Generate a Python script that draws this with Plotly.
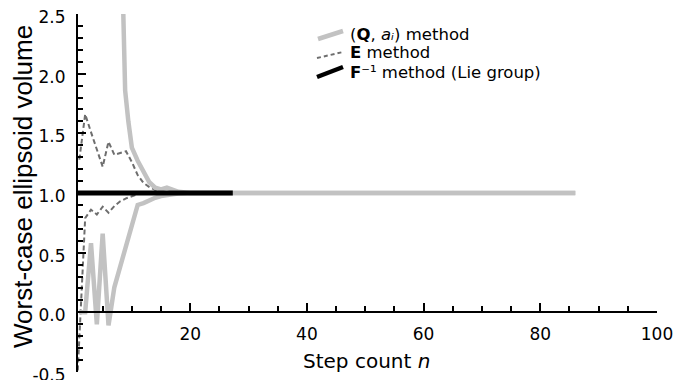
import plotly.graph_objects as go

# ---------------- data ----------------
gray_upper_n = [8.0, 8.85, 9.4, 10, 11, 12, 13, 14, 15, 16, 17, 18, 20, 86]
gray_upper_v = [3.6, 1.86, 1.6, 1.38, 1.27, 1.17, 1.09, 1.045, 1.03, 1.045, 1.025, 1.01, 1.0, 1.0]

gray_lower_n = [1, 2, 3, 4, 5, 6, 7, 8, 9, 10, 11, 12, 13, 14, 15, 16, 17, 18, 20, 86]
gray_lower_v = [0.0, 0.0, 0.58, -0.10, 0.66, -0.11, 0.21, 0.38, 0.555, 0.73, 0.90, 0.915, 0.94, 0.96,
                0.975, 0.985, 0.99, 0.995, 1.0, 1.0]

e_upper_n = [1, 2, 3, 4, 5, 6, 7, 8, 9, 10, 11, 12, 13, 14, 15, 16, 27]
e_upper_v = [1.28, 1.66, 1.51, 1.36, 1.22, 1.43, 1.32, 1.335, 1.35, 1.26, 1.15, 1.085, 1.05, 1.025,
             1.01, 1.0, 1.0]

e_lower_n = [0.6, 1, 2, 3, 4, 5, 6, 7, 8, 9, 10, 11, 12, 27]
e_lower_v = [-0.62, -0.25, 0.79, 0.86, 0.82, 0.885, 0.835, 0.89, 0.93, 0.955, 0.975, 0.99, 1.0, 1.0]

lie_n = [0.6, 27.3]
lie_v = [1.0, 1.0]

y_tick_vals = [-0.5, 0.0, 0.5, 1.0, 1.5, 2.0, 2.5]
y_tick_text = ["-0.5", "0.0", "0.5", "1.0", "1.5", "2.0", "2.5"]
x_tick_vals = [20, 40, 60, 80, 100]
x_tick_text = ["20", "40", "60", "80", "100"]

legend_labels = [
    "(<b>Q</b>, <i>a</i><i>ᵢ</i>) method",
    "<b>E</b> method",
    "<b>F</b>⁻¹ method (Lie group)",
]

# ---------------- styles / layout ----------------
GRAY = "#c2c2c2"
DASH = "#6e6e6e"
BLACK = "#000000"
FONT_H = "DejaVu Sans"
FONT_V = "Liberation Sans, Arial"

W_PX, H_PX = 694, 380
OFF = 8  # page body margin in the browser
L, R, T, B = 69, 45, 6, 16
PW, PH = W_PX - L - R, H_PX - T - B


def px(x):
    """screen pixel x -> paper fraction"""
    return (x - OFF - L) / PW


def py(y):
    """screen pixel y -> paper fraction"""
    return (H_PX - B - (y - OFF)) / PH


fig = go.Figure()

fig.add_trace(go.Scatter(x=e_upper_n, y=e_upper_v, mode="lines",
                         line=dict(color=DASH, width=2, dash="5px,3px")))
fig.add_trace(go.Scatter(x=e_lower_n, y=e_lower_v, mode="lines",
                         line=dict(color=DASH, width=2, dash="5px,3px")))
fig.add_trace(go.Scatter(x=gray_upper_n, y=gray_upper_v, mode="lines",
                         line=dict(color=GRAY, width=4.5)))
fig.add_trace(go.Scatter(x=gray_lower_n, y=gray_lower_v, mode="lines",
                         line=dict(color=GRAY, width=4.5)))
fig.add_trace(go.Scatter(x=lie_n, y=lie_v, mode="lines",
                         line=dict(color=BLACK, width=5)))

fig.update_layout(
    width=W_PX, height=H_PX,
    margin=dict(l=L, r=R, t=T, b=B, autoexpand=False),
    plot_bgcolor="white", paper_bgcolor="white",
    showlegend=False,
    xaxis=dict(
        range=[0.6, 100], tickvals=x_tick_vals, ticktext=x_tick_text,
        ticks="inside", ticklen=8, tickwidth=1.5, tickcolor="black",
        showline=True, linecolor="black", linewidth=2,
        anchor="free", position=(0 - (-0.5)) / 3.0,
        minor=dict(dtick=5, tick0=0, ticks="inside", ticklen=5, tickwidth=1.5, tickcolor="black"),
        showgrid=False, zeroline=False,
        tickfont=dict(family=FONT_H, size=17, color="black"),
        ticklabelstandoff=6, ticklabeloverflow="allow",
    ),
    yaxis=dict(
        range=[-0.5, 2.5], tickvals=y_tick_vals, ticktext=y_tick_text,
        ticks="inside", ticklen=8, tickwidth=1.5, tickcolor="black",
        showline=True, linecolor="black", linewidth=2,
        anchor="free", position=0,
        minor=dict(dtick=0.1, tick0=0, ticks="inside", ticklen=5, tickwidth=1.5, tickcolor="black"),
        showgrid=False, zeroline=False,
        tickfont=dict(family=FONT_H, size=17, color="black"),
        ticklabelstandoff=7, ticklabeloverflow="allow", ticklabelshift=3,
    ),
)

# axis titles
fig.add_annotation(text="Step count <i>n</i>", xref="paper", yref="paper",
                   x=px(366), y=py(361), xanchor="center", yanchor="middle",
                   showarrow=False, font=dict(family=FONT_H, size=20, color="black"))
fig.add_annotation(text="Worst-case ellipsoid volume", xref="paper", yref="paper",
                   x=px(23), y=py(187), xanchor="center", yanchor="middle", textangle=-90,
                   showarrow=False, font=dict(family=FONT_V, size=26, color="black"))

# legend (drawn manually to get the slanted sample lines)
legend_rows = [
    dict(x0=318, y0=39, x1=343, y1=31, color=GRAY, width=4.5, dash="solid", ty=34),
    dict(x0=317, y0=58, x1=343, y1=52, color=DASH, width=2, dash="4px,3px", ty=53),
    dict(x0=317, y0=77, x1=343, y1=67, color=BLACK, width=4.5, dash="solid", ty=72),
]
for row, label in zip(legend_rows, legend_labels):
    fig.add_shape(type="line", xref="paper", yref="paper",
                  x0=px(row["x0"]), y0=py(row["y0"]), x1=px(row["x1"]), y1=py(row["y1"]),
                  line=dict(color=row["color"], width=row["width"], dash=row["dash"]))
    fig.add_annotation(text=label, xref="paper", yref="paper", borderpad=0,
                       x=px(349), y=py(row["ty"]), xanchor="left", yanchor="middle",
                       showarrow=False, font=dict(family=FONT_H, size=16.5, color="black"))

fig.write_html("out.html")
